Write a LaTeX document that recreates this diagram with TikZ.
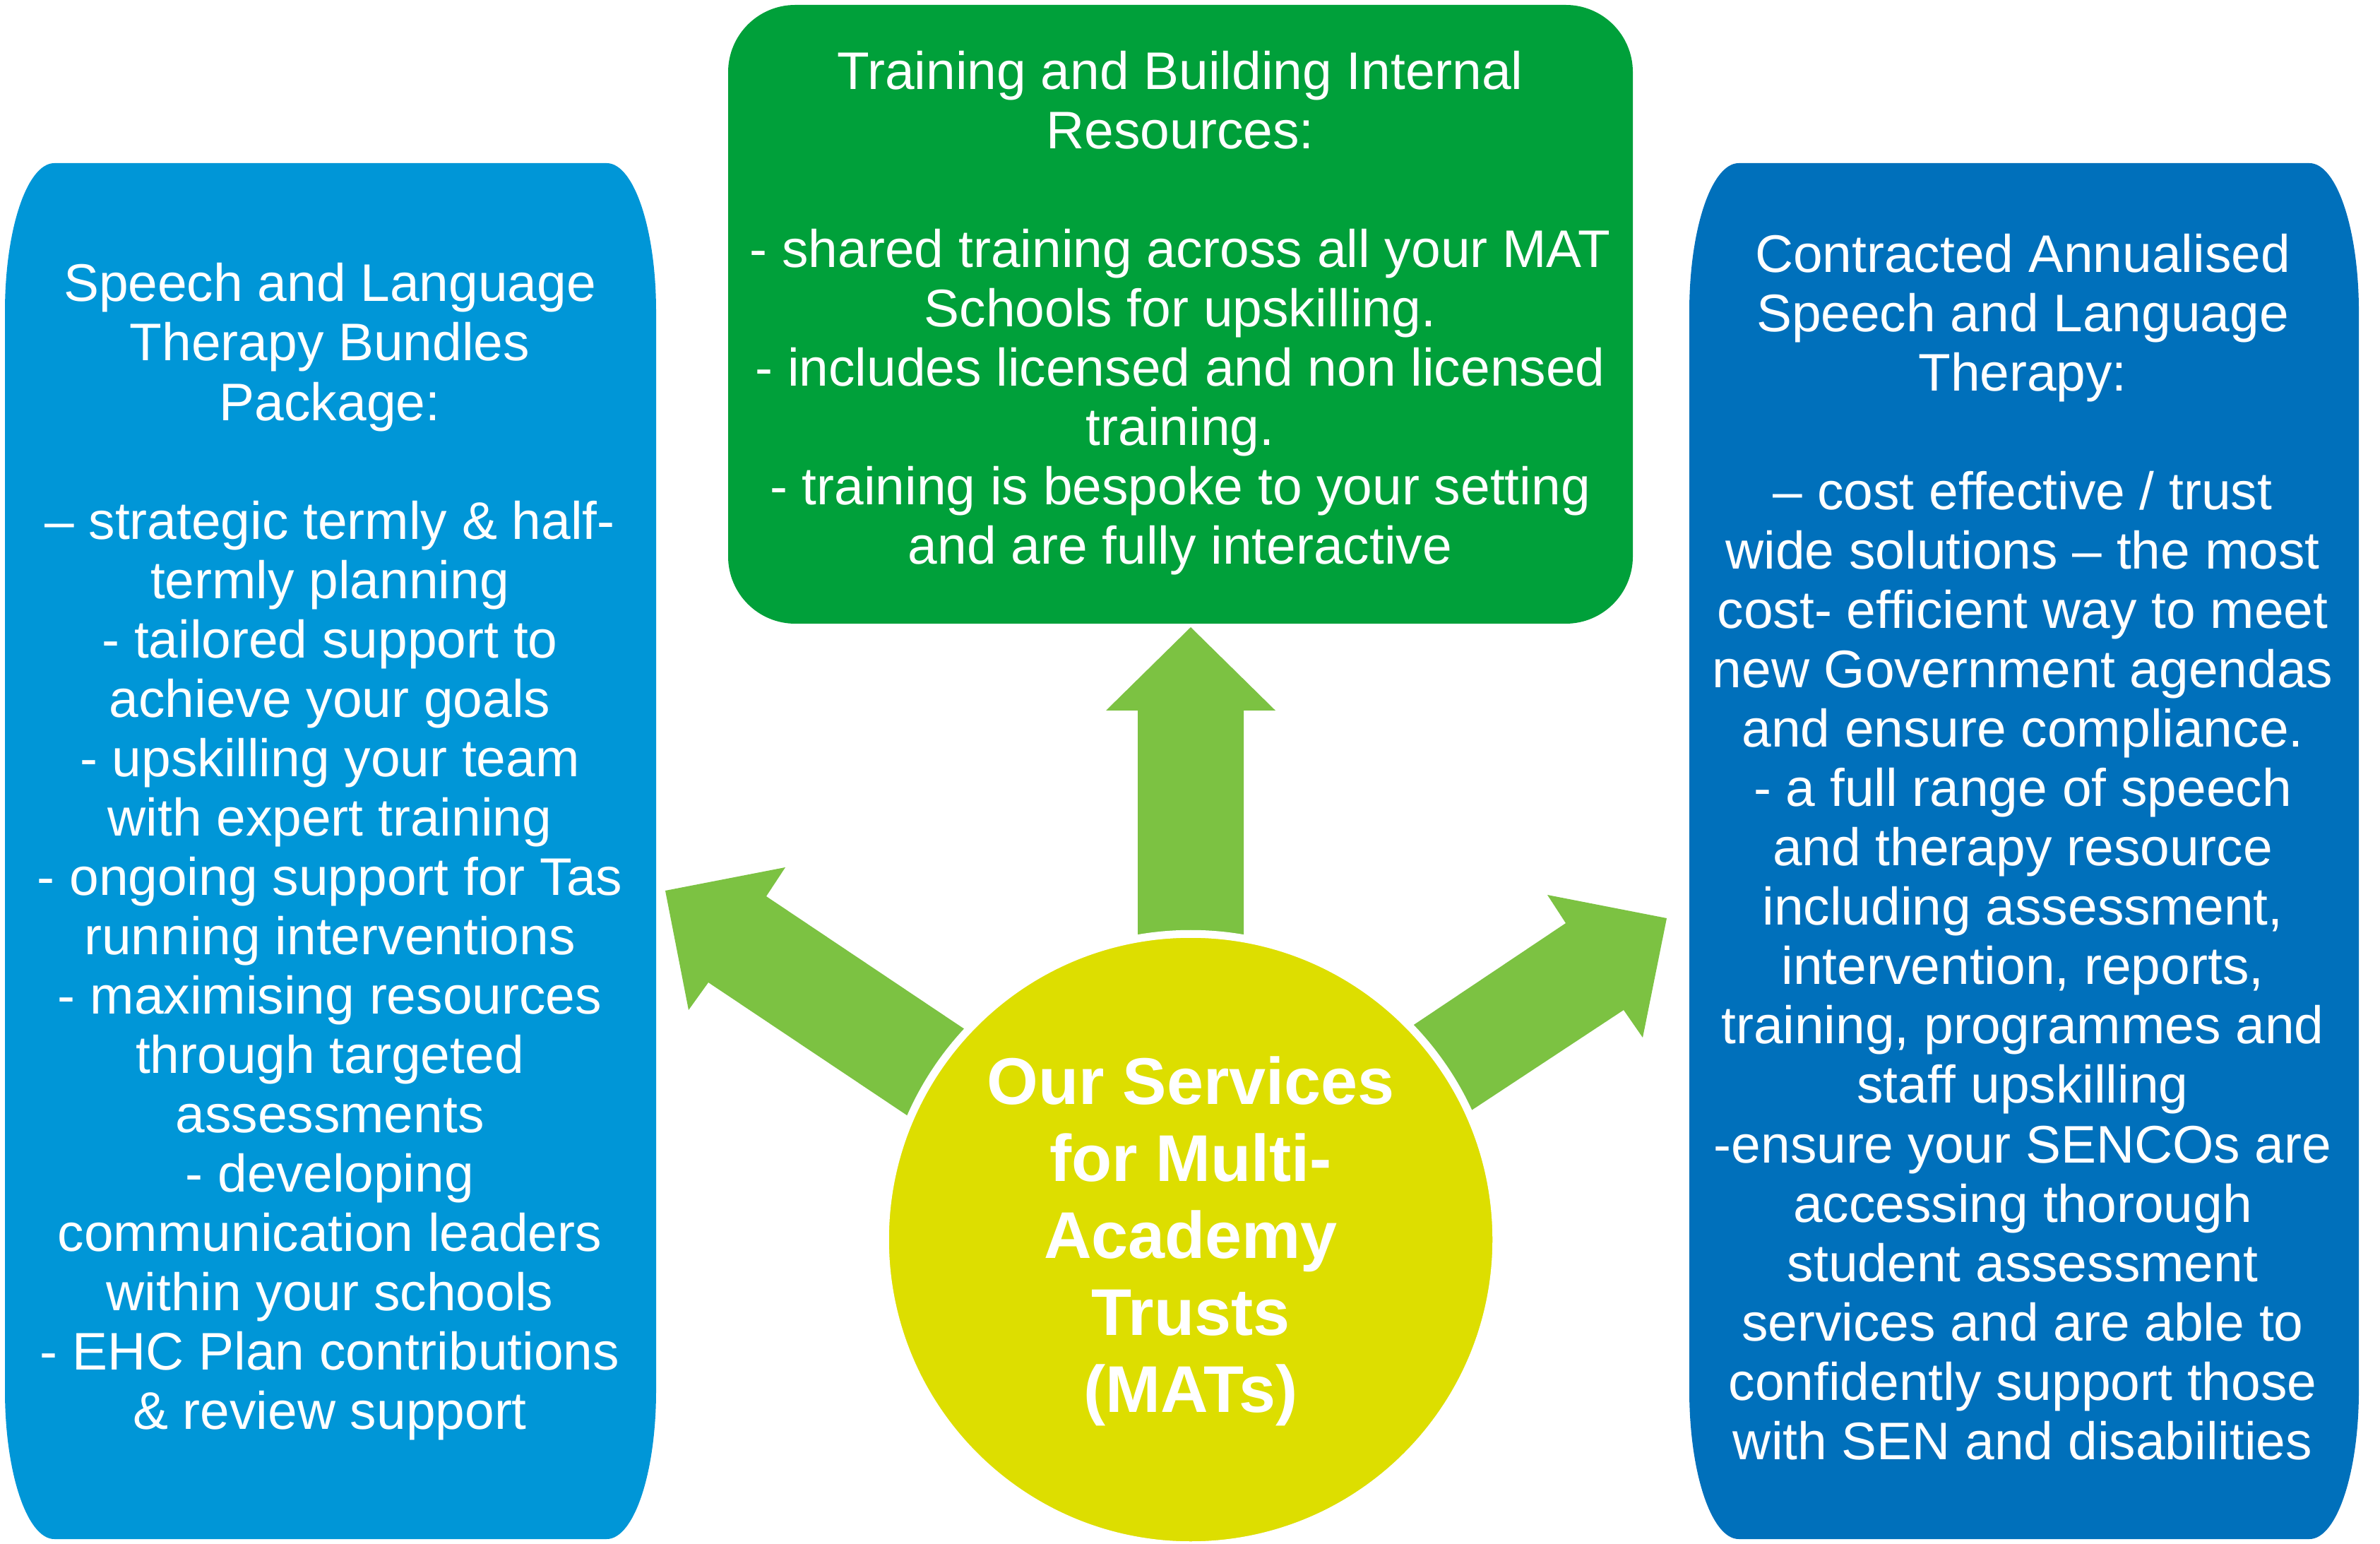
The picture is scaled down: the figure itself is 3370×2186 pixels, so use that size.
\documentclass[tikz,border=0pt]{standalone}
\usepackage{fontspec}
\setmainfont{Liberation Sans}
\definecolor{lblue}{RGB}{0,150,215}
\definecolor{dblue}{RGB}{0,112,187}
\definecolor{tgreen}{RGB}{0,160,58}
\definecolor{agreen}{RGB}{124,194,66}
\definecolor{yel}{RGB}{221,222,0}
\tikzset{
  boxtext/.style={text=white, align=center, inner sep=0pt, font=\fontsize{21.3pt}{23.9pt}\selectfont},
  hubtext/.style={text=white, align=center, inner sep=0pt, font=\bfseries\fontsize{26.6pt}{31pt}\selectfont},
  blockarrow/.style={fill=agreen},
}
\begin{document}
\begin{tikzpicture}[x=0.01cm, y=-0.01cm]
\useasboundingbox[fill=white] (0,0) rectangle (3370,2186);

% left box
\fill[lblue] (7,441) -- (7,1969) .. controls (7,2085) and (38.3,2179) .. (77,2179)
  -- (859,2179) .. controls (897.7,2179) and (929,2085) .. (929,1969)
  -- (929,441) .. controls (929,325) and (897.7,231) .. (859,231)
  -- (77,231) .. controls (38.3,231) and (7,325) .. (7,441) -- cycle;
% right box
\fill[dblue] (2392,441) -- (2392,1969) .. controls (2392,2085) and (2423.3,2179) .. (2462,2179)
  -- (3270,2179) .. controls (3308.7,2179) and (3340,2085) .. (3340,1969)
  -- (3340,441) .. controls (3340,325) and (3308.7,231) .. (3270,231)
  -- (2462,231) .. controls (2423.3,231) and (2392,325) .. (2392,441) -- cycle;
% top box
\fill[tgreen, rounded corners=0.95cm] (1031,7) rectangle (2312,883);

% arrows
\fill[blockarrow] (942,1261) -- (1112,1228) -- (1085,1269) -- (1418,1492) -- (1338,1615) -- (1003,1391) -- (975,1430) -- cycle;
\fill[blockarrow] (2360,1300) -- (2191,1267) -- (2217,1307) -- (1957,1481) -- (2038,1602) -- (2299,1430) -- (2326,1469) -- cycle;
\fill[blockarrow] (1686,888) -- (1806,1006) -- (1761,1006) -- (1761,1400) -- (1611,1400) -- (1611,1006) -- (1566,1006) -- cycle;

% hub
\node[circle, fill=yel, draw=white, line width=0.11cm, minimum size=8.65cm, inner sep=0pt] (hub) at (1686,1755) {};
\node[hubtext] (hubt) at (1686,1757) {Our Services\\for Multi-\\Academy\\Trusts\\(MATs)};

\node[boxtext] (lefttext) at (467,1206) {Speech and Language\\Therapy Bundles\\Package:\\ \\– strategic termly \& half-\\termly planning\\- tailored support to\\achieve your goals\\- upskilling your team\\with expert training\\- ongoing support for Tas\\running interventions\\- maximising resources\\through targeted\\assessments\\- developing\\communication leaders\\within your schools\\- EHC Plan contributions\\\& review support};

\node[boxtext] (toptext) at (1671,443) {Training and Building Internal\\Resources:\\ \\- shared training across all your MAT\\Schools for upskilling.\\- includes licensed and non licensed\\training.\\- training is bespoke to your setting\\and are fully interactive};

\node[boxtext] (righttext) at (2864,1199) {Contracted Annualised\\Speech and Language\\Therapy:\\ \\– cost effective / trust\\wide solutions – the most\\cost- efficient way to meet\\new Government agendas\\and ensure compliance.\\- a full range of speech\\and therapy resource\\including assessment,\\intervention, reports,\\training, programmes and\\staff upskilling\\-ensure your SENCOs are\\accessing thorough\\student assessment\\services and are able to\\confidently support those\\with SEN and disabilities};
\end{tikzpicture}
\end{document}
